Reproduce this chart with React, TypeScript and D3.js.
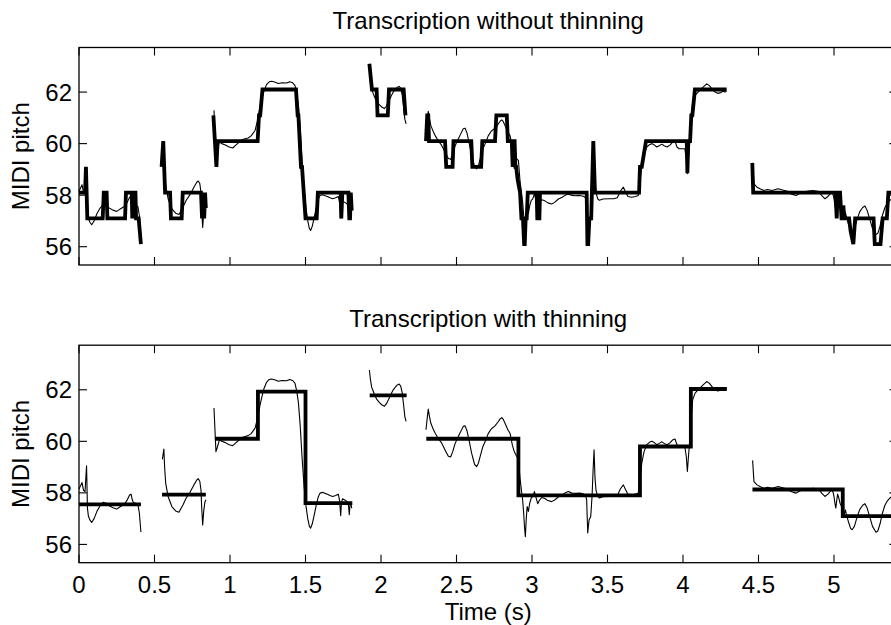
import React from 'react';
import * as d3 from 'd3';

type Pt = [number, number];

// Axis ticks and labels
const xTicks = [0, 0.5, 1, 1.5, 2, 2.5, 3, 3.5, 4, 4.5, 5];
const xTickLabels = ['0', '0.5', '1', '1.5', '2', '2.5', '3', '3.5', '4', '4.5', '5'];
const yTicks = [56, 58, 60, 62];
const yTickLabels = ['56', '58', '60', '62'];
const panelTitles = ['Transcription without thinning', 'Transcription with thinning'];
const xLabel = 'Time (s)';
const yLabel = 'MIDI pitch';

// Estimated pitch contour (time s, MIDI pitch), one array per voiced stretch
const pitchTrack: Pt[][] = [
  [[0, 58.15], [0.012, 58.3], [0.02, 58.4], [0.03, 58.1], [0.04, 58.05], [0.05, 59.05], [0.056, 57.4], [0.062, 57.1], [0.072, 56.95], [0.084, 56.85], [0.1, 57.0], [0.12, 57.3], [0.14, 57.5], [0.16, 57.63], [0.18, 57.6], [0.2, 57.5], [0.225, 57.42], [0.25, 57.37], [0.27, 57.45], [0.3, 57.56], [0.32, 57.73], [0.335, 57.92], [0.345, 57.95], [0.352, 57.75], [0.36, 57.62], [0.375, 57.6], [0.39, 57.56], [0.4, 57.2], [0.41, 56.48]],
  [[0.552, 59.3], [0.562, 59.7], [0.567, 59.0], [0.574, 58.38], [0.59, 57.86], [0.615, 57.47], [0.64, 57.3], [0.662, 57.25], [0.69, 57.55], [0.71, 57.8], [0.735, 58.02], [0.76, 58.3], [0.78, 58.5], [0.79, 58.55], [0.8, 58.45], [0.808, 58.1], [0.812, 57.5], [0.819, 56.75], [0.826, 57.3], [0.834, 57.65], [0.841, 57.73]],
  [[0.894, 61.29], [0.9, 60.5], [0.907, 59.6], [0.915, 59.75], [0.93, 60.06], [0.945, 60.0], [0.97, 59.95], [0.99, 59.88], [1.018, 59.83], [1.04, 59.95], [1.06, 60.05], [1.08, 60.15], [1.1, 60.19], [1.12, 60.22], [1.14, 60.3], [1.166, 60.51], [1.18, 60.84], [1.195, 61.3], [1.21, 61.7], [1.225, 62.05], [1.243, 62.3], [1.26, 62.4], [1.276, 62.42], [1.3, 62.38], [1.32, 62.33], [1.345, 62.36], [1.375, 62.35], [1.395, 62.4], [1.415, 62.36], [1.43, 62.26], [1.442, 61.95], [1.453, 61.5], [1.465, 60.6], [1.477, 59.4], [1.49, 58.3], [1.503, 57.5], [1.515, 57.0], [1.525, 56.72], [1.534, 56.63], [1.545, 56.8], [1.56, 57.2], [1.574, 57.6], [1.585, 57.85], [1.596, 57.99], [1.615, 58.02], [1.63, 57.98], [1.645, 57.95], [1.662, 57.9], [1.68, 57.86], [1.7, 57.9], [1.717, 57.95], [1.726, 57.7], [1.733, 57.11], [1.738, 57.6], [1.745, 57.77], [1.76, 57.72], [1.775, 57.67], [1.785, 57.5], [1.79, 57.15], [1.795, 57.55], [1.8, 57.6], [1.806, 57.41]],
  [[1.923, 62.77], [1.93, 62.4], [1.938, 62.1], [1.945, 62.0], [1.958, 61.8], [1.971, 61.64], [1.99, 61.5], [2.005, 61.42], [2.022, 61.36], [2.035, 61.45], [2.05, 61.62], [2.065, 61.82], [2.081, 62.0], [2.095, 62.1], [2.108, 62.19], [2.12, 62.22], [2.13, 62.15], [2.14, 61.9], [2.15, 61.4], [2.158, 60.95], [2.166, 60.77]],
  [[2.298, 60.45], [2.306, 60.9], [2.313, 61.25], [2.32, 61.0], [2.33, 60.7], [2.346, 60.47], [2.36, 60.3], [2.38, 60.1], [2.4, 59.95], [2.413, 59.8], [2.43, 59.6], [2.446, 59.42], [2.461, 59.39], [2.475, 59.6], [2.49, 59.9], [2.505, 60.1], [2.523, 60.32], [2.545, 60.58], [2.557, 60.6], [2.57, 60.4], [2.583, 60.05], [2.6, 59.54], [2.62, 59.1], [2.634, 59.02], [2.645, 59.15], [2.66, 59.48], [2.675, 59.8], [2.689, 59.98], [2.71, 60.3], [2.73, 60.48], [2.755, 60.6], [2.775, 60.75], [2.79, 60.88], [2.8, 60.92], [2.81, 60.85], [2.825, 60.65], [2.84, 60.45], [2.855, 60.3], [2.87, 59.85], [2.88, 59.65], [2.888, 59.54], [2.9, 59.4], [2.91, 59.35], [2.92, 58.6], [2.93, 58.1], [2.938, 57.73], [2.945, 57.2], [2.95, 56.7], [2.956, 56.3], [2.962, 57.0], [2.968, 57.47], [2.976, 57.28], [2.985, 57.6], [2.995, 57.8], [3.005, 57.86], [3.016, 58.05], [3.025, 57.85], [3.038, 57.58], [3.05, 57.72], [3.065, 57.82], [3.085, 57.78], [3.105, 57.7], [3.13, 57.66], [3.15, 57.72], [3.175, 57.85], [3.2, 57.92], [3.22, 58.0], [3.241, 58.05], [3.265, 57.99], [3.29, 57.98], [3.315, 57.99], [3.34, 57.96], [3.355, 57.9], [3.362, 57.73], [3.369, 56.44], [3.378, 56.95], [3.389, 57.08], [3.398, 57.9], [3.404, 58.8], [3.411, 59.67], [3.417, 58.6], [3.424, 58.1], [3.435, 57.86], [3.446, 57.8], [3.47, 57.85], [3.506, 57.86], [3.54, 57.86], [3.565, 57.9], [3.585, 58.15], [3.605, 58.31], [3.62, 58.12], [3.635, 57.95], [3.66, 57.92], [3.685, 57.95], [3.704, 57.99], [3.715, 58.5], [3.727, 59.15], [3.742, 59.6], [3.76, 59.87], [3.78, 59.97], [3.795, 60.0], [3.81, 59.95], [3.826, 59.87], [3.845, 59.93], [3.86, 59.98], [3.875, 59.92], [3.895, 59.87], [3.915, 59.95], [3.93, 60.05], [3.947, 60.09], [3.96, 59.87], [3.975, 59.8], [3.995, 59.8], [4.012, 59.8], [4.022, 59.4], [4.029, 58.83], [4.036, 59.4], [4.043, 59.9], [4.053, 60.84], [4.064, 61.61], [4.08, 61.87], [4.1, 62.0], [4.118, 62.1], [4.135, 62.2], [4.157, 62.32], [4.175, 62.25], [4.195, 62.1], [4.212, 62.0], [4.23, 61.95], [4.25, 61.98], [4.265, 62.03], [4.278, 62.0], [4.288, 62.05]],
  [[4.461, 59.26], [4.466, 58.8], [4.47, 58.44], [4.49, 58.31], [4.51, 58.25], [4.535, 58.18], [4.56, 58.22], [4.59, 58.18], [4.63, 58.25], [4.66, 58.2], [4.697, 58.14], [4.715, 58.05], [4.73, 58.02], [4.75, 57.99], [4.77, 58.06], [4.795, 58.12], [4.83, 58.16], [4.862, 58.18], [4.89, 58.15], [4.905, 58.1], [4.918, 57.99], [4.94, 57.86], [4.96, 57.95], [4.984, 58.12], [4.995, 58.0], [5.0, 57.86], [5.006, 57.6], [5.012, 57.41], [5.018, 57.7], [5.024, 57.95], [5.032, 57.8], [5.04, 57.6], [5.05, 57.47], [5.06, 57.2], [5.068, 57.15], [5.075, 57.34], [5.085, 57.1], [5.095, 56.89], [5.11, 56.62], [5.12, 56.57], [5.135, 56.7], [5.15, 57.0], [5.17, 57.35], [5.19, 57.52], [5.205, 57.58], [5.22, 57.4], [5.24, 57.0], [5.255, 56.7], [5.278, 56.47], [5.29, 56.52], [5.305, 56.8], [5.32, 57.2], [5.337, 57.52], [5.355, 57.7], [5.37, 57.8], [5.385, 57.86], [5.42, 57.92]],
];

// Frame-wise transcription before thinning (time s, MIDI pitch)
const framePitches: Pt[][] = [
  [[0, 58.1], [0.04, 58.1], [0.046, 59.1], [0.055, 57.1], [0.157, 57.1], [0.164, 58.1], [0.183, 58.1], [0.188, 57.1], [0.305, 57.1], [0.311, 58.1], [0.349, 58.1], [0.353, 57.1], [0.358, 58.1], [0.374, 58.1], [0.378, 57.1], [0.395, 57.1], [0.41, 56.1]],
  [[0.547, 59.1], [0.558, 60.1], [0.57, 58.1], [0.603, 58.1], [0.609, 57.1], [0.68, 57.1], [0.687, 58.1], [0.808, 58.1], [0.815, 57.1], [0.822, 58.1], [0.829, 57.1], [0.835, 58.1], [0.84, 57.5]],
  [[0.89, 61.1], [0.9, 60.1], [0.91, 59.1], [0.918, 60.1], [1.183, 60.1], [1.192, 61.1], [1.2, 61.1], [1.215, 62.1], [1.437, 62.1], [1.448, 61.1], [1.453, 61.1], [1.47, 59.1], [1.477, 59.1], [1.5, 57.1], [1.574, 57.1], [1.582, 58.1], [1.733, 58.1], [1.737, 57.1], [1.744, 58.1], [1.784, 58.1], [1.79, 57.1], [1.795, 57.1], [1.8, 58.1], [1.806, 57.4]],
  [[1.923, 63.1], [1.94, 62.1], [1.971, 62.1], [1.977, 61.1], [2.045, 61.1], [2.053, 62.1], [2.15, 62.1], [2.162, 61.1]],
  [[2.298, 60.1], [2.306, 61.1], [2.313, 61.1], [2.318, 60.1], [2.424, 60.1], [2.432, 59.1], [2.474, 59.1], [2.48, 60.1], [2.598, 60.1], [2.605, 59.1], [2.663, 59.1], [2.671, 60.1], [2.755, 60.1], [2.764, 61.1], [2.833, 61.1], [2.84, 60.1], [2.866, 60.1], [2.872, 59.1], [2.877, 60.1], [2.885, 60.1], [2.89, 59.1], [2.895, 59.1], [2.905, 58.6], [2.921, 58.1], [2.93, 57.1], [2.94, 57.1], [2.948, 56.1], [2.952, 56.1], [2.958, 57.1], [2.965, 57.1], [2.972, 58.1], [3.031, 58.1], [3.035, 57.1], [3.049, 57.1], [3.053, 58.1], [3.362, 58.1], [3.367, 56.1], [3.372, 56.1], [3.38, 57.1], [3.392, 57.1], [3.406, 60.1], [3.417, 58.1], [3.709, 58.1], [3.715, 59.1], [3.727, 59.1], [3.755, 60.1], [4.025, 60.1], [4.029, 58.85], [4.035, 60.1], [4.047, 60.1], [4.055, 61.1], [4.062, 61.1], [4.079, 62.1], [4.289, 62.1]],
  [[4.459, 59.25], [4.465, 58.1], [5.01, 58.1], [5.018, 57.1], [5.024, 58.1], [5.04, 58.1], [5.05, 57.1], [5.058, 57.1], [5.062, 57.6], [5.068, 57.1], [5.1, 57.1], [5.11, 56.6], [5.128, 56.1], [5.14, 57.1], [5.262, 57.1], [5.27, 56.1], [5.308, 56.1], [5.322, 57.1], [5.35, 57.1], [5.36, 58.1], [5.42, 58.1]],
];

// Notes after thinning
const noteOnsets = [0, 0.55, 0.9, 1.185, 1.5, 1.925, 2.3, 2.91, 3.715, 4.052, 4.46, 5.058];
const noteOffsets = [0.41, 0.84, 1.185, 1.5, 1.81, 2.17, 2.91, 3.715, 4.052, 4.29, 5.058, 5.42];
const notePitches = [57.55, 57.93, 60.1, 61.93, 57.6, 61.78, 60.1, 57.9, 59.8, 62.03, 58.13, 57.1];

const W = 891;
const H = 625;
const FONT = "'Liberation Sans', Arial, Helvetica, sans-serif";
const FS = 24;
const TICK = 8;

// join consecutive notes (offset == next onset) into stepped polylines
function noteSteps(): Pt[][] {
  const groups: Pt[][] = [];
  let cur: Pt[] = [];
  noteOnsets.forEach((on, i) => {
    const off = noteOffsets[i];
    const p = notePitches[i];
    if (i > 0 && Math.abs(noteOffsets[i - 1] - on) < 1e-9) {
      cur.push([on, p], [off, p]);
    } else {
      if (cur.length) groups.push(cur);
      cur = [[on, p], [off, p]];
    }
  });
  if (cur.length) groups.push(cur);
  return groups;
}

function Panel({ top, bottom, title, thick }: { top: number; bottom: number; title: string; thick: Pt[][] }) {
  const x = d3.scaleLinear().domain([0, 5.42]).range([79, 79 + 5.42 * 151]);
  const y = d3.scaleLinear().domain([55.29, 63.73]).range([bottom, top]);
  const line = d3.line<Pt>().x((d) => x(d[0])).y((d) => y(d[1]));
  const [x0, x1] = x.range();
  const cy = (top + bottom) / 2;
  return (
    <g>
      <text x={(x0 + x1) / 2} y={top - 18.5} textAnchor="middle" fontSize={FS} fontFamily={FONT} fill="#000">
        {title}
      </text>
      <text
        transform={`translate(28.5,${cy}) rotate(-90)`}
        textAnchor="middle"
        fontSize={FS}
        fontFamily={FONT}
        fill="#000"
      >
        {yLabel}
      </text>
      {pitchTrack.map((seg, i) => (
        <path key={`p${i}`} d={line(seg) || ''} fill="none" stroke="#000" strokeWidth={1.1} strokeLinejoin="round" />
      ))}
      {thick.map((seg, i) => (
        <path
          key={`t${i}`}
          d={line(seg) || ''}
          fill="none"
          stroke="#000"
          strokeWidth={3.8}
          strokeLinejoin="miter"
          strokeMiterlimit={2}
        />
      ))}
      <rect x={x0} y={top} width={x1 - x0} height={bottom - top} fill="none" stroke="#000" strokeWidth={1.3} />
      {xTicks.map((t, i) => (
        <g key={`xt${i}`}>
          <line x1={x(t)} x2={x(t)} y1={bottom} y2={bottom - TICK} stroke="#000" strokeWidth={1.1} />
          <line x1={x(t)} x2={x(t)} y1={top} y2={top + TICK} stroke="#000" strokeWidth={1.1} />
        </g>
      ))}
      {yTicks.map((v, i) => (
        <g key={`yt${i}`}>
          <line x1={x0} x2={x0 + TICK} y1={y(v)} y2={y(v)} stroke="#000" strokeWidth={1.1} />
          <line x1={x1} x2={x1 - TICK} y1={y(v)} y2={y(v)} stroke="#000" strokeWidth={1.1} />
          <text
            x={x0 - 7}
            y={y(v)}
            textAnchor="end"
            dominantBaseline="central"
            fontSize={FS}
            fontFamily={FONT}
            fill="#000"
          >
            {yTickLabels[i]}
          </text>
        </g>
      ))}
    </g>
  );
}

export default function App() {
  const x = d3.scaleLinear().domain([0, 5.42]).range([79, 79 + 5.42 * 151]);
  const [x0, x1] = x.range();
  return (
    <svg
      width={W}
      height={H}
      viewBox={`0 0 ${W} ${H}`}
      style={{ position: 'absolute', left: 0, top: 0, background: '#fff' }}
    >
      <rect x={0} y={0} width={W} height={H} fill="#fff" />
      <Panel top={47.5} bottom={265} title={panelTitles[0]} thick={framePitches} />
      <Panel top={345.2} bottom={562.7} title={panelTitles[1]} thick={noteSteps()} />
      {xTicks.map((t, i) => (
        <text key={`xl${i}`} x={x(t)} y={593} textAnchor="middle" fontSize={FS} fontFamily={FONT} fill="#000">
          {xTickLabels[i]}
        </text>
      ))}
      <text x={(x0 + x1) / 2} y={619.5} textAnchor="middle" fontSize={FS} fontFamily={FONT} fill="#000">
        {xLabel}
      </text>
    </svg>
  );
}
